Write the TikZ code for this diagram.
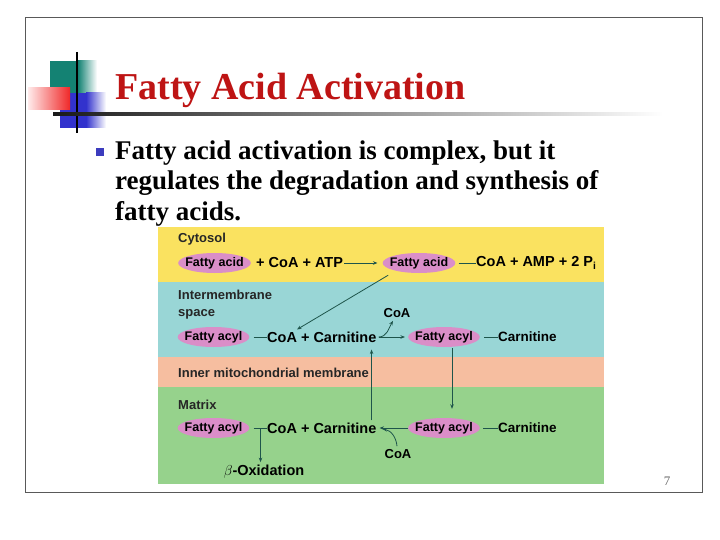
\documentclass[tikz,border=0pt]{standalone}
\usepackage{fontspec}
\setmainfont{Liberation Serif}
\setsansfont{Liberation Sans}
\usetikzlibrary{arrows.meta,shapes.geometric}
\definecolor{ellpink}{RGB}{218,142,200}
\definecolor{yelb}{RGB}{250,226,96}
\definecolor{cyanb}{RGB}{153,214,214}
\definecolor{salm}{RGB}{246,190,160}
\definecolor{grnb}{RGB}{150,210,140}
\definecolor{arrowcol}{RGB}{30,85,75}
\definecolor{titlered}{RGB}{190,20,20}
\definecolor{decoteal}{RGB}{20,130,115}
\definecolor{decoblue}{RGB}{50,50,205}
\definecolor{decored}{RGB}{240,40,40}
\definecolor{bulletblue}{RGB}{60,60,190}
\tikzset{
  mol/.style={ellipse, fill=ellpink, inner ysep=0pt, inner xsep=-3.5pt, minimum height=20pt,
    font=\sffamily\bfseries\fontsize{12.5}{14}\selectfont},
  txt/.style={inner sep=0pt, anchor=west, font=\sffamily\bfseries\fontsize{14.5}{16}\selectfont},
  stxt/.style={inner sep=0pt, anchor=west, font=\sffamily\bfseries\fontsize{13.5}{15}\selectfont},
  lbl/.style={inner sep=0pt, anchor=west, align=left, text=black!85,
    font=\sffamily\bfseries\fontsize{13}{17}\selectfont},
  arr/.style={draw=arrowcol, line width=0.8pt, -{Stealth[length=4.5pt,width=3.5pt]}},
  bond/.style={draw=arrowcol, line width=0.9pt}
}
\begin{document}
\begin{tikzpicture}[x=1pt,y=-1pt]
\useasboundingbox (0,0) rectangle (720,540);
\fill[white] (0,0) rectangle (720,540);
\draw[black!65, line width=1pt] (25,18) rectangle (702,492);
% decoration
\fill[decoteal] (50,61) rectangle (78,93);
\shade[left color=decoteal, right color=white] (78,61) rectangle (97,93);
\fill[decoblue] (60,93) rectangle (86,128);
\shade[left color=decoblue, right color=white] (86,93) rectangle (106,128);
\shade[left color=red!8, right color=decored] (28,88) rectangle (70,110);
\draw[black, line width=1.2pt] (77,52) -- (77,133);
\shade[left color=black!90, right color=white] (53,112.8) rectangle (663,115.2);
% title
\node[anchor=base west, inner sep=0pt, text=titlered, font=\bfseries\fontsize{38}{40}\selectfont] (title) at (115,100) {Fatty Acid Activation};
% bullet
\fill[bulletblue] (96,148) rectangle (104,156);
\node[anchor=north west, inner sep=0pt, align=left, font=\bfseries\fontsize{27}{30.5}\selectfont] (body) at (115,140.5)
 {Fatty acid activation is complex, but it\\regulates the degradation and synthesis of\\fatty acids.};
% panel bands
\fill[yelb] (158,227) rectangle (604,282);
\fill[cyanb] (158,282) rectangle (604,357);
\fill[salm] (158,357) rectangle (604,387);
\fill[grnb] (158,387) rectangle (604,484);
% labels
\node[lbl] (cyt) at (178,239) {Cytosol};
\node[lbl] (ims) at (178,305) {Intermembrane\\space};
\node[lbl] (imm) at (178,373) {Inner mitochondrial membrane};
\node[lbl] (mat) at (178,405) {Matrix};
% row 1
\node[mol] (fa1) at (214.5,263) {Fatty acid};
\node[txt] (r1a) at (256,263) {+ CoA + ATP};
\node[mol] (fa2) at (419,263) {Fatty acid};
\node[txt] (r1b) at (476,263) {CoA + AMP + 2 P\textsubscript{i}};
\draw[arr] ([xshift=1pt]r1a.east) -- ([xshift=-5pt]fa2.west);
\draw[bond] ([xshift=3pt]fa2.east) -- (r1b.west);
% row 2
\node[mol] (fa3) at (213.5,337) {Fatty acyl};
\node[txt] (r2a) at (267,337) {CoA + Carnitine};
\node[mol] (fa4) at (444,337) {Fatty acyl};
\node[stxt] (r2b) at (498,337) {Carnitine};
\node[inner sep=0pt, font=\sffamily\bfseries\fontsize{13}{14}\selectfont] (c1) at (397,313) {CoA};
\draw[bond] ([xshift=4pt]fa3.east) -- (r2a.west);
\draw[bond] ([xshift=4pt]fa4.east) -- (r2b.west);
\draw[arr] ([xshift=2pt]r2a.east) -- ([xshift=-3pt]fa4.west);
\draw[arr] ([xshift=2pt]r2a.east) to[out=0,in=-120] ([xshift=-4pt,yshift=-3pt]c1.south);
% diagonal
\draw[arr] ([xshift=-5pt,yshift=-5pt]fa2.south west) -- ([xshift=30pt,yshift=2pt]r2a.north west);
% row 3
\node[mol] (fa6) at (213.5,428) {Fatty acyl};
\node[txt] (r3a) at (267,428) {CoA + Carnitine};
\node[mol] (fa5) at (444,428) {Fatty acyl};
\node[stxt] (r3b) at (498,428) {Carnitine};
\node[inner sep=0pt, font=\sffamily\bfseries\fontsize{13}{14}\selectfont] (c2) at (398,454) {CoA};
\draw[bond] ([xshift=4pt]fa6.east) -- (r3a.west);
\draw[bond] ([xshift=3pt]fa5.east) -- (r3b.west);
\draw[arr] (fa5.west) -- ([xshift=3pt]r3a.east);
\draw[arr] ([xshift=-1pt,yshift=3pt]c2.north) to[out=95,in=-10] ([xshift=6pt,yshift=-1pt]r3a.east);
% vertical transport arrows
\draw[arr] ([xshift=-5pt,yshift=2pt]r3a.north east) -- ([xshift=-5pt,yshift=-7pt]r2a.south east);
\draw[arr] ([xshift=8pt,yshift=-1pt]fa4.south) -- ([xshift=8pt,yshift=9pt]fa5.north);
% beta oxidation
\node[inner sep=0pt, font=\sffamily\bfseries\fontsize{14.5}{16}\selectfont] (ox) at (264,472) {$\beta$-Oxidation};
\coordinate (b3) at ([xshift=11pt]fa6.east);
\draw[arr] (b3) -- ([yshift=3pt]b3 |- ox.north);
% page number
\node[inner sep=0pt, text=black!60, font=\fontsize{13}{14}\selectfont] (pg) at (667,481) {7};
\end{tikzpicture}
\end{document}
